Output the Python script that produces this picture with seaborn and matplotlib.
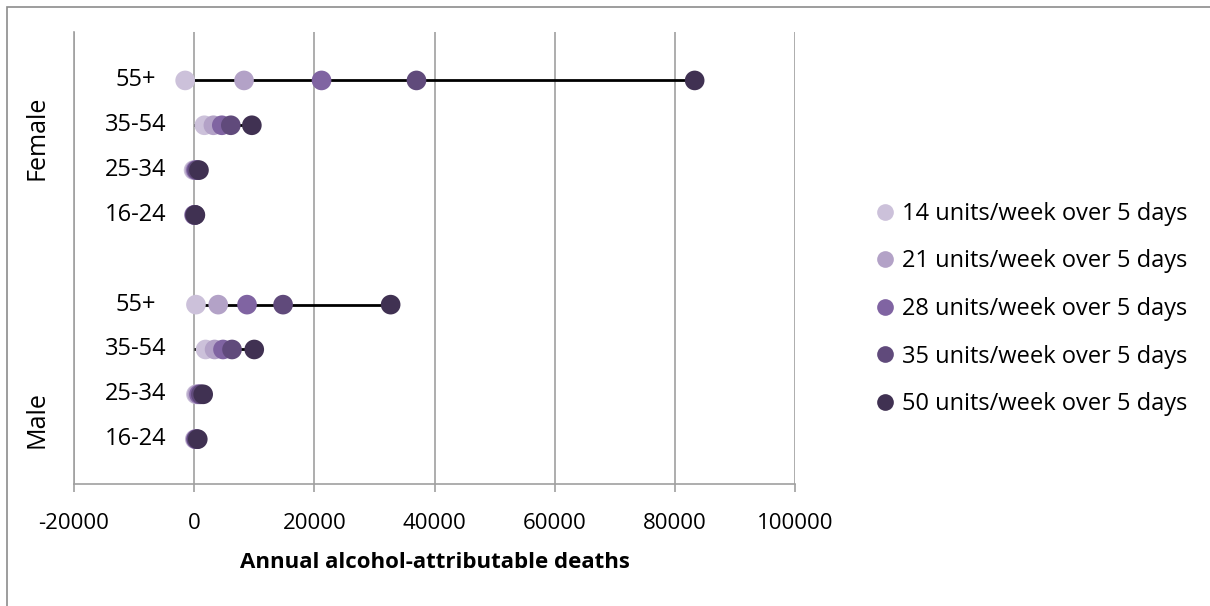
import numpy as np
import pandas as pd
import matplotlib
matplotlib.use("Agg")
import matplotlib.pyplot as plt
import matplotlib.transforms as mtransforms
from matplotlib.patches import Rectangle
import seaborn as sns

# Age bands per sex (bottom to top) and their y slots
age_labels = ["16-24", "25-34", "35-54", "55+", "16-24", "25-34", "35-54", "55+"]
row_y = [1, 2, 3, 4, 6, 7, 8, 9]
sex_labels = ["Male", "Female"]

series_names = [
    "14 units/week over 5 days",
    "21 units/week over 5 days",
    "28 units/week over 5 days",
    "35 units/week over 5 days",
    "50 units/week over 5 days",
]
series_colors = ["#CCC1DA", "#B3A2C7", "#8064A2", "#604A7B", "#403152"]

# Annual alcohol-attributable deaths, one list per drinking pattern,
# rows ordered as Male 16-24 .. Male 55+, Female 16-24 .. Female 55+
deaths_14 = [100, 300, 1900, 300, -50, -100, 1700, -1500]
deaths_21 = [200, 500, 3400, 4000, 0, 100, 3200, 8300]
deaths_28 = [300, 800, 4800, 8800, 50, 300, 4600, 21200]
deaths_35 = [400, 1100, 6300, 14800, 100, 500, 6100, 37000]
deaths_50 = [600, 1500, 10000, 32700, 200, 800, 9600, 83300]
all_series = [deaths_14, deaths_21, deaths_28, deaths_35, deaths_50]

x_ticks = [-20000, 0, 20000, 40000, 60000, 80000, 100000]

records = []
for name, vals in zip(series_names, all_series):
    for y, v in zip(row_y, vals):
        records.append({"pattern": name, "y": y, "deaths": v})
df = pd.DataFrame(records)
row_max = df.groupby("y")["deaths"].max()

sns.set_theme(style="white")
plt.rcParams["font.family"] = ["Open Sans", "DejaVu Sans"]
plt.rcParams["text.color"] = "black"
plt.rcParams["axes.labelcolor"] = "black"
plt.rcParams["xtick.labelcolor"] = "black"

W, H = 1210, 606
fig = plt.figure(figsize=(W / 100, H / 100), dpi=100)
ax = fig.add_axes([74 / W, (H - 484) / H, (795 - 74) / W, (484 - 32) / H])

grid_c = "#A0A0A0"
for t in x_ticks:
    ax.axvline(t, color=grid_c, lw=1.2, zorder=0)

# Range line from zero to the largest value in each row
ax.hlines(row_max.index, 0, row_max.values, color="black", lw=2.0, zorder=1)

sns.scatterplot(
    data=df, x="deaths", y="y", hue="pattern", hue_order=series_names,
    palette=series_colors, s=200, linewidth=0, alpha=1, ax=ax, zorder=3,
    legend=True,
)

ax.set_xlim(x_ticks[0], x_ticks[-1])
ax.set_ylim(0, 10.08)
ax.set_xticks(x_ticks)
ax.set_xticklabels([str(t) for t in x_ticks], fontsize=16)
ax.set_yticks([])
ax.set_ylabel("")
ax.set_xlabel("Annual alcohol-attributable deaths", fontsize=16,
              fontweight="bold", labelpad=13)
ax.tick_params(axis="x", length=6, width=1.2, color=grid_c, direction="out",
               pad=15, bottom=True)

for side in ["top", "right"]:
    ax.spines[side].set_visible(False)
for side in ["left", "bottom"]:
    ax.spines[side].set_color(grid_c)
    ax.spines[side].set_linewidth(1.2)

# Age band labels inside the plot area
blend = mtransforms.blended_transform_factory(ax.transAxes, ax.transData)
for y, lab in zip(row_y, age_labels):
    ax.text((136 - 74) / (795 - 74), y, lab, transform=blend, ha="center",
            va="center", fontsize=17)

# Sex group labels
fig.text(37 / W, 1 - 420 / H, sex_labels[0], rotation=90, ha="center",
         va="center", fontsize=18)
fig.text(37 / W, 1 - 138 / H, sex_labels[1], rotation=90, ha="center",
         va="center", fontsize=18)

handles, labels = ax.get_legend_handles_labels()
ax.legend(handles, labels, loc="upper left",
          bbox_to_anchor=(855 / W, 1 - 190 / H), bbox_transform=fig.transFigure,
          frameon=False, fontsize=17, labelspacing=1.0, handletextpad=0.0,
          markerscale=0.85, borderpad=0, handlelength=1.5)

# Chart border
fig.patches.append(Rectangle((7 / W, -0.1), 1.2, (H - 7) / H + 0.1,
                             transform=fig.transFigure, fill=False,
                             edgecolor="#8C8C8C", lw=1.2))

fig.savefig("out.png", dpi=100)
